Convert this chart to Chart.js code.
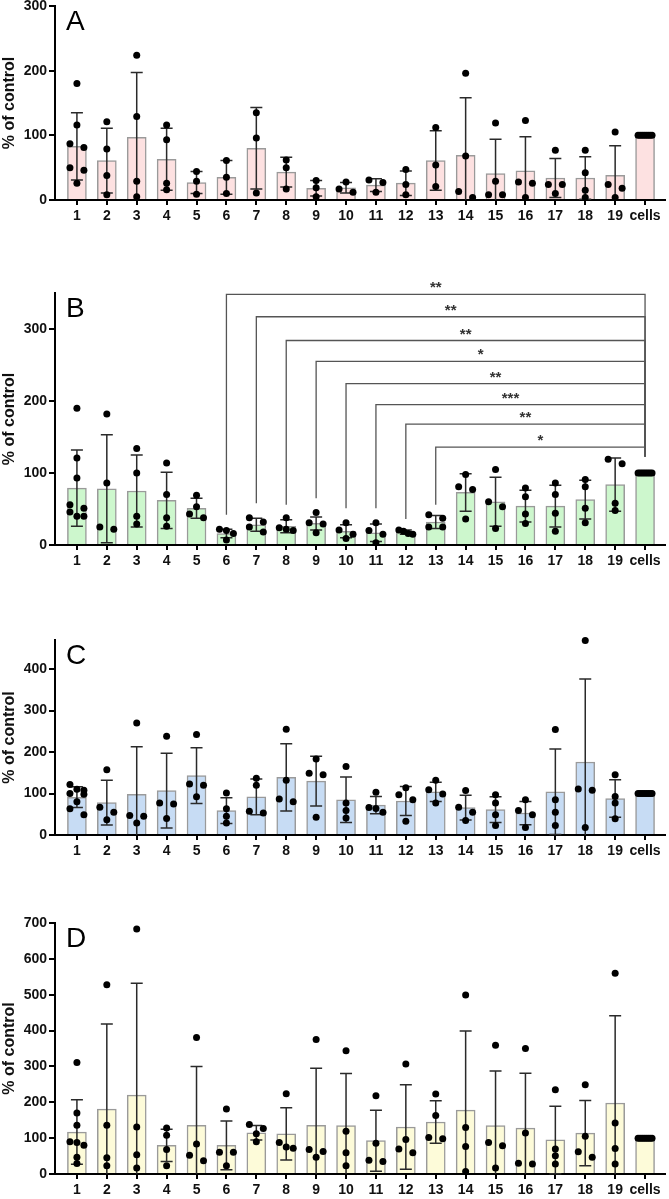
<!DOCTYPE html>
<html>
<head>
<meta charset="utf-8">
<script src="https://cdn.jsdelivr.net/npm/chart.js@4.4.0/dist/chart.umd.min.js"></script>
<style>
  html, body { margin: 0; padding: 0; background: #fff; overflow: hidden; }
  canvas { position: absolute; left: 0; }
</style>
</head>
<body>
<canvas id="chartA" width="669" height="228" style="top:0px"></canvas>
<canvas id="chartB" width="669" height="337" style="top:236px"></canvas>
<canvas id="chartC" width="669" height="283" style="top:580px"></canvas>
<canvas id="chartD" width="669" height="329" style="top:870px"></canvas>
<script>
// groups on the x axis
const categories = ['1', '2', '3', '4', '5', '6', '7', '8', '9', '10',
  '11', '12', '13', '14', '15', '16', '17', '18', '19', 'cells'];
const cellsDots = [100, 100, 100, 100, 100, 100, 100, 100];

// panel A
const aTicks = [0, 100, 200, 300];
const aMeans = [83, 61, 97, 63, 27, 35, 80, 43, 18, 19, 23, 26, 61, 69, 41, 45, 34, 34, 38, 100];
const aSD = [52, 50, 100, 48, 17, 26, 63, 23, 12, 8, 10, 19, 46, 89, 53, 53, 30, 33, 46, 0];
const aPoints = [
  [180, 116, 87, 81, 50, 46, 26], [121, 79, 38, 8], [224, 129, 29, 5], [116, 93, 26, 16],
  [44, 29, 9], [61, 35, 10], [135, 96, 11], [62, 50, 17], [30, 19, 5], [28, 17, 12],
  [31, 27, 12], [47, 24, 8], [112, 54, 21], [196, 68, 13, 4], [119, 29, 8, 8],
  [123, 28, 26, 4], [77, 24, 24, 10], [77, 42, 15, 4], [105, 24, 18, 4], cellsDots
];

// panel B
const bTicks = [0, 100, 200, 300];
const bMeans = [79, 78, 75, 62, 51, 16, 28, 26, 30, 19, 17, 18, 32, 73, 60, 54, 54, 63, 84, 100];
const bSD = [53, 75, 50, 39, 14, 6, 9, 9, 9, 9, 12, 3, 9, 26, 34, 22, 29, 27, 37, 0];
const bPoints = [
  [190, 121, 93, 56, 51, 46, 40, 40], [182, 86, 25, 22], [134, 100, 40, 29], [114, 70, 38, 26],
  [69, 53, 43, 38], [22, 20, 16, 7], [38, 32, 25, 18], [38, 24, 22, 20], [45, 31, 29, 17],
  [31, 21, 15, 9], [31, 20, 15, 3], [21, 19, 16, 15], [42, 37, 25, 25], [98, 81, 77, 36],
  [105, 60, 53, 23], [79, 67, 43, 30], [86, 70, 44, 19], [91, 81, 51, 31], [119, 113, 58, 48],
  cellsDots
];
// comparisons against "cells"
const bBracketFrom = ['6', '7', '8', '9', '10', '11', '12', '13'];
const bBracketLevel = [348, 317, 284, 255, 224, 195, 168, 136];
const bBracketDrop = [42, 58, 56, 65, 51, 51, 36, 56];
const bBracketStars = ['**', '**', '**', '*', '**', '***', '**', '*'];
const bBracketEnd = 123;

// panel C
const cTicks = [0, 100, 200, 300, 400];
const cMeans = [91, 78, 98, 107, 143, 59, 92, 139, 130, 85, 72, 82, 104, 66, 61, 53, 104, 176, 88, 100];
const cSD = [25, 54, 115, 90, 67, 31, 43, 81, 60, 55, 21, 35, 23, 30, 31, 28, 103, 200, 45, 0];
const cPoints = [
  [122, 110, 108, 100, 98, 80, 63, 49], [157, 67, 55, 37], [270, 47, 45, 29], [238, 77, 75, 40],
  [242, 123, 120, 92], [101, 63, 45, 29], [137, 120, 57, 53], [255, 132, 87, 80],
  [183, 149, 145, 43], [165, 77, 59, 41], [103, 66, 64, 55], [114, 97, 85, 33],
  [132, 109, 99, 77], [107, 67, 55, 35], [97, 77, 49, 23], [85, 59, 49, 18],
  [254, 85, 55, 23], [469, 111, 108, 18], [145, 93, 77, 39], cellsDots
];

// panel D
const dTicks = [0, 100, 200, 300, 400, 500, 600, 700];
const dMeans = [117, 181, 220, 80, 136, 80, 115, 112, 136, 135, 93, 131, 145, 178, 135, 128, 95, 114, 198, 100];
const dSD = [90, 237, 312, 45, 164, 68, 20, 73, 159, 145, 85, 118, 59, 221, 152, 153, 94, 91, 243, 0];
const dPoints = [
  [311, 170, 136, 90, 88, 80, 47, 29], [528, 136, 45, 23], [683, 131, 54, 17], [128, 108, 68, 23],
  [381, 84, 52, 37], [181, 61, 61, 23], [138, 127, 112, 90], [224, 88, 75, 72],
  [375, 68, 63, 47], [344, 119, 59, 23], [218, 86, 38, 35], [307, 96, 70, 59],
  [223, 163, 102, 98], [499, 130, 77, 7], [359, 88, 79, 17], [350, 114, 30, 28],
  [235, 70, 51, 28], [249, 105, 62, 47], [560, 142, 71, 28], cellsDots
];

Chart.defaults.font.family = '"Liberation Sans", Arial, Helvetica, sans-serif';
Chart.defaults.color = '#111';

const X_MIN = -0.733, X_MAX = 19.667;
const PLOT_W = 612;
const PX_PER_CAT = PLOT_W / (X_MAX - X_MIN);

// spread dots that sit at about the same height, like a scatter dot plot
function dotData(groups, pxPerY) {
  const out = [];
  groups.forEach((vals, i) => {
    const sorted = vals.slice().sort((a, b) => b - a);
    const rows = [];
    let row = [];
    sorted.forEach(v => {
      if (row.length && (row[0] - v) * pxPerY > 6) { rows.push(row); row = []; }
      row.push(v);
    });
    if (row.length) rows.push(row);
    rows.forEach(r => r.forEach((v, k) => {
      const dx = r.length === 1 ? 0 : -7 + 14 * k / (r.length - 1);
      out.push({ x: i + dx / PX_PER_CAT, y: v });
    }));
  });
  return out;
}

function errorBarPlugin(means, sds) {
  return {
    id: 'errorBars',
    afterDatasetDraw(chart, args) {
      if (args.meta.type !== 'bar') return;
      const { ctx, scales: { x, y } } = chart;
      ctx.save();
      ctx.strokeStyle = '#2a2a2a';
      ctx.lineWidth = 1.5;
      means.forEach((m, i) => {
        const sd = sds[i];
        if (!sd) return;
        const px = x.getPixelForValue(i);
        const hi = y.getPixelForValue(m + sd);
        const lo = y.getPixelForValue(Math.max(m - sd, 0));
        ctx.beginPath();
        ctx.moveTo(px, lo);
        ctx.lineTo(px, hi);
        ctx.moveTo(px - 6, hi);
        ctx.lineTo(px + 6, hi);
        if (m - sd > 0) {
          ctx.moveTo(px - 6, lo);
          ctx.lineTo(px + 6, lo);
        }
        ctx.stroke();
      });
      ctx.restore();
    }
  };
}

function letterPlugin(letter) {
  return {
    id: 'panelLetter',
    afterDraw(chart) {
      const { ctx, chartArea } = chart;
      ctx.save();
      ctx.fillStyle = '#000';
      ctx.font = '28px "Liberation Sans", Arial, sans-serif';
      ctx.textBaseline = 'alphabetic';
      ctx.fillText(letter, chartArea.left + 11, chartArea.top + 24);
      ctx.restore();
    }
  };
}

const bracketPlugin = {
  id: 'brackets',
  afterDraw(chart) {
    const { ctx, scales: { x, y } } = chart;
    const xEnd = x.getPixelForValue(categories.indexOf('cells'));
    ctx.save();
    ctx.strokeStyle = '#555';
    ctx.lineWidth = 1.3;
    ctx.fillStyle = '#333';
    ctx.font = 'bold 15px "Liberation Sans", Arial, sans-serif';
    ctx.textAlign = 'center';
    ctx.textBaseline = 'alphabetic';
    bBracketFrom.forEach((cat, k) => {
      const xs = x.getPixelForValue(categories.indexOf(cat));
      const yl = y.getPixelForValue(bBracketLevel[k]);
      ctx.beginPath();
      ctx.moveTo(xs, y.getPixelForValue(bBracketDrop[k]));
      ctx.lineTo(xs, yl);
      ctx.lineTo(xEnd, yl);
      ctx.lineTo(xEnd, y.getPixelForValue(bBracketEnd));
      ctx.stroke();
      ctx.fillText(bBracketStars[k], (xs + xEnd) / 2, yl - 2);
    });
    ctx.restore();
  }
};

function makePanel(id, letter, fill, means, sds, points, yTicks, yMax, padTop, xH, extra) {
  const canvas = document.getElementById(id);
  const plotH = canvas.height - padTop - xH;
  const plugins = [errorBarPlugin(means, sds), letterPlugin(letter)];
  if (extra) plugins.push(extra);
  return new Chart(canvas, {
    type: 'bar',
    data: {
      datasets: [
        {
          type: 'bar',
          data: means.map((m, i) => ({ x: i, y: m })),
          backgroundColor: fill,
          borderColor: '#9a9a9a',
          borderWidth: 1.5,
          barThickness: 19,
          order: 2
        },
        {
          type: 'scatter',
          data: dotData(points, plotH / yMax),
          pointRadius: 3.5,
          pointBackgroundColor: '#000',
          pointBorderWidth: 0,
          clip: false,
          order: 1
        }
      ]
    },
    options: {
      responsive: false,
      animation: false,
      events: [],
      layout: { padding: { top: padTop, left: 0, right: 2, bottom: 0 } },
      plugins: { legend: { display: false }, tooltip: { enabled: false } },
      scales: {
        x: {
          type: 'linear',
          min: X_MIN,
          max: X_MAX,
          offset: false,
          border: { display: true, color: '#000', width: 2 },
          grid: { offset: false, drawOnChartArea: false, drawTicks: true, tickLength: 5, lineWidth: 2, color: '#000' },
          ticks: {
            autoSkip: false, maxRotation: 0, padding: 3,
            font: { size: 14, weight: 'bold' }, color: '#111',
            callback: v => categories[v]
          },
          afterBuildTicks: s => { s.ticks = categories.map((c, i) => ({ value: i })); },
          afterFit: s => { s.height = xH; s.paddingLeft = 0; s.paddingRight = 0; }
        },
        y: {
          min: 0,
          max: yMax,
          border: { display: true, color: '#000', width: 2 },
          grid: { drawOnChartArea: false, drawTicks: true, tickLength: 6, lineWidth: 2, color: '#000' },
          ticks: { padding: 2, font: { size: 14, weight: 'bold' }, color: '#111' },
          title: { display: true, text: '% of control', font: { size: 16, weight: 'bold' }, color: '#111', padding: 0 },
          afterBuildTicks: s => { s.ticks = yTicks.map(v => ({ value: v })); },
          afterFit: s => { s.width = 55; s.paddingTop = 0; s.paddingBottom = 0; }
        }
      }
    },
    plugins: plugins
  });
}

makePanel('chartA', 'A', '#fde1e1', aMeans, aSD, aPoints, aTicks, 300, 6, 28);
makePanel('chartB', 'B', '#cdf7cd', bMeans, bSD, bPoints, bTicks, 350, 57, 28, bracketPlugin);
makePanel('chartC', 'C', '#c7dcf4', cMeans, cSD, cPoints, cTicks, 470, 60, 28);
makePanel('chartD', 'D', '#fdfbd9', dMeans, dSD, dPoints, dTicks, 700, 53, 25);
</script>
</body>
</html>
